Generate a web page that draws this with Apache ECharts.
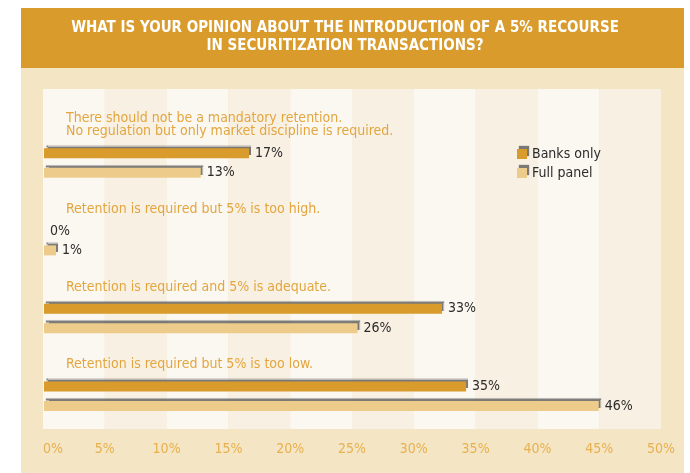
<!DOCTYPE html>
<html>
<head>
<meta charset="utf-8">
<script src="https://cdn.jsdelivr.net/npm/echarts@6/dist/echarts.min.js"></script>
<style>html,body{margin:0;padding:0;background:#fff}#c{width:690px;height:473px}</style>
</head>
<body>
<div id="c"></div>
<script>
const titleLines = ['WHAT IS YOUR OPINION ABOUT THE INTRODUCTION OF A 5% RECOURSE', 'IN SECURITIZATION TRANSACTIONS?'];
const categories = [
  'There should not be a mandatory retention.\nNo regulation but only market discipline is required.',
  'Retention is required but 5% is too high.',
  'Retention is required and 5% is adequate.',
  'Retention is required but 5% is too low.'
];
const seriesNames = ['Banks only', 'Full panel'];
const banksOnly = [17, 0, 33, 35];
const fullPanel = [13, 1, 26, 46];
const xTicks = [0, 5, 10, 15, 20, 25, 30, 35, 40, 45, 50];

const FONT = '"Liberation Sans Narrow","DejaVu Sans Condensed",Roboto,sans-serif';
const chart = echarts.init(document.getElementById('c'), null, {renderer: 'canvas'});
const shadow = {shadowColor: 'rgba(90,90,90,0.8)', shadowBlur: 1, shadowOffsetX: 2, shadowOffsetY: -3};
function barSeries(name, data, color) {
  return {
    name: name, type: 'bar', xAxisIndex: 0, yAxisIndex: 0, data: data,
    barWidth: 10, barGap: '95%',
    itemStyle: Object.assign({color: color}, shadow),
    label: {show: true, position: 'right', distance: 6, formatter: '{c}%',
      color: '#2b2b2b', fontFamily: FONT, fontSize: 14},
    z: 3
  };
}
chart.setOption({
  animation: false,
  textStyle: {fontFamily: FONT},
  graphic: [
    {type: 'rect', shape: {x: 21, y: 68, width: 663, height: 405}, style: {fill: '#F4E5C4'}, z: -10},
    {type: 'rect', shape: {x: 21, y: 8, width: 663, height: 60}, style: {fill: '#D99B2B'}, z: -10},
    {type: 'text', left: 'center', top: 21, style: {text: titleLines[0], fill: '#ffffff',
      font: 'bold 15px ' + FONT}, z: 5},
    {type: 'text', left: 'center', top: 39, style: {text: titleLines[1], fill: '#ffffff',
      font: 'bold 15px ' + FONT}, z: 5}
  ],
  legend: {
    orient: 'vertical', left: 512, top: 142, itemWidth: 10, itemHeight: 10, itemGap: 5,
    icon: 'rect',
    itemStyle: {shadowColor: 'rgba(90,90,90,0.8)', shadowBlur: 1, shadowOffsetX: 2, shadowOffsetY: -3},
    textStyle: {color: '#2b2b2b', fontSize: 14, fontFamily: FONT},
    data: seriesNames
  },
  grid: [
    {left: 44, width: 603, top: 124, height: 311},
    {left: 43, width: 618, top: 89, height: 340}
  ],
  xAxis: [
    {gridIndex: 0, type: 'value', min: 0, max: 50, show: false},
    {gridIndex: 1, type: 'value', min: 0, max: 50, interval: 5,
      axisLine: {show: false}, axisTick: {show: false}, splitLine: {show: false},
      splitArea: {show: true, areaStyle: {color: ['#FBF7F1', '#F8F0E3']}},
      axisLabel: {color: '#E8B04E', fontSize: 14, margin: 13, fontFamily: FONT,
        formatter: '{value}%', alignMinLabel: 'left'}
    }
  ],
  yAxis: [
    {gridIndex: 0, type: 'category', data: categories, inverse: true,
      axisLine: {show: false}, axisTick: {show: false}, splitLine: {show: false},
      axisLabel: {inside: true, margin: 22, align: 'left', verticalAlign: 'bottom',
        lineHeight: 13, padding: [0, 0, 25, 0], color: '#E3A63F', fontSize: 14, fontFamily: FONT}
    },
    {gridIndex: 1, type: 'value', show: false}
  ],
  series: [
    barSeries(seriesNames[0], banksOnly, '#D99B2B'),
    barSeries(seriesNames[1], fullPanel, '#EDCC8B')
  ]
});
</script>
</body>
</html>
